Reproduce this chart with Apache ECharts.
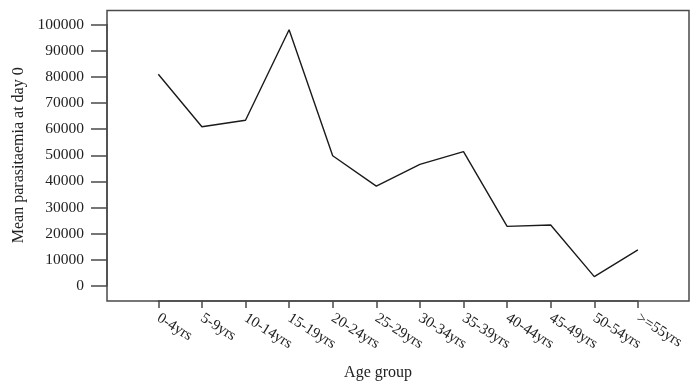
<!DOCTYPE html>
<html>
<head>
<meta charset="utf-8">
<script src="https://cdn.jsdelivr.net/npm/echarts@6/dist/echarts.min.js"></script>
<style>
  html, body { margin: 0; padding: 0; background: #fff; }
  #chart { width: 700px; height: 391px; }
</style>
</head>
<body>
<div id="chart"></div>
<script>
// age groups on the x axis
const ageGroups = ['0-4yrs', '5-9yrs', '10-14yrs', '15-19yrs', '20-24yrs', '25-29yrs',
    '30-34yrs', '35-39yrs', '40-44yrs', '45-49yrs', '50-54yrs', '>=55yrs'];
// mean parasitaemia at day 0
const meanParasitaemia = [81000, 60900, 63400, 98000, 49800, 38200,
    46500, 51400, 22800, 23300, 3600, 13800];

const yMin = 0;
const yMax = 100000;
const yStep = 10000;

const serif = '"Liberation Serif", "DejaVu Serif", serif';
const frameColor = '#4a4a4a';

const chart = echarts.init(document.getElementById('chart'));

chart.setOption({
    animation: false,
    backgroundColor: '#fff',
    grid: [
        // outer box only
        { left: 107, right: 11, top: 10.5, bottom: 90, show: true, borderColor: frameColor, borderWidth: 1.5, backgroundColor: 'transparent' },
        // plotting area
        { left: 158.3, right: 62.1, top: 24.5, bottom: 105 }
    ],
    xAxis: [
        { gridIndex: 0, type: 'value', show: false },
        {
            gridIndex: 1,
            type: 'category',
            data: ageGroups,
            boundaryGap: false,
            offset: 15,
            axisLine: { show: true, onZero: false, lineStyle: { color: frameColor, width: 1.5 } },
            axisTick: { show: true, length: 7, lineStyle: { color: frameColor, width: 1.5 } },
            axisLabel: {
                rotate: -32,
                margin: 16,
                interval: 0,
                fontFamily: serif,
                fontSize: 15,
                color: '#222'
            },
            name: 'Age group',
            nameLocation: 'middle',
            nameGap: 64,
            nameTextStyle: { fontFamily: serif, fontSize: 16, color: '#222', padding: [0, 40, 0, 0] }
        }
    ],
    yAxis: [
        { gridIndex: 0, type: 'value', show: false },
        {
            gridIndex: 1,
            type: 'value',
            min: yMin,
            max: yMax,
            interval: yStep,
            offset: 51.3,
            splitLine: { show: false },
            axisLine: { show: true, onZero: false, lineStyle: { color: frameColor, width: 1.5 } },
            axisTick: { show: true, length: 16, lineStyle: { color: frameColor, width: 1.5 } },
            axisLabel: {
                margin: 23,
                fontFamily: serif,
                fontSize: 15.5,
                color: '#222',
                formatter: v => String(v)
            },
            name: 'Mean parasitaemia at day 0',
            nameLocation: 'middle',
            nameGap: 80,
            nameTextStyle: { fontFamily: serif, fontSize: 16, color: '#222' }
        }
    ],
    series: [{
        type: 'line',
        xAxisIndex: 1,
        yAxisIndex: 1,
        data: meanParasitaemia,
        symbol: 'none',
        lineStyle: { color: '#1a1a1a', width: 1.4 }
    }]
});
</script>
</body>
</html>
